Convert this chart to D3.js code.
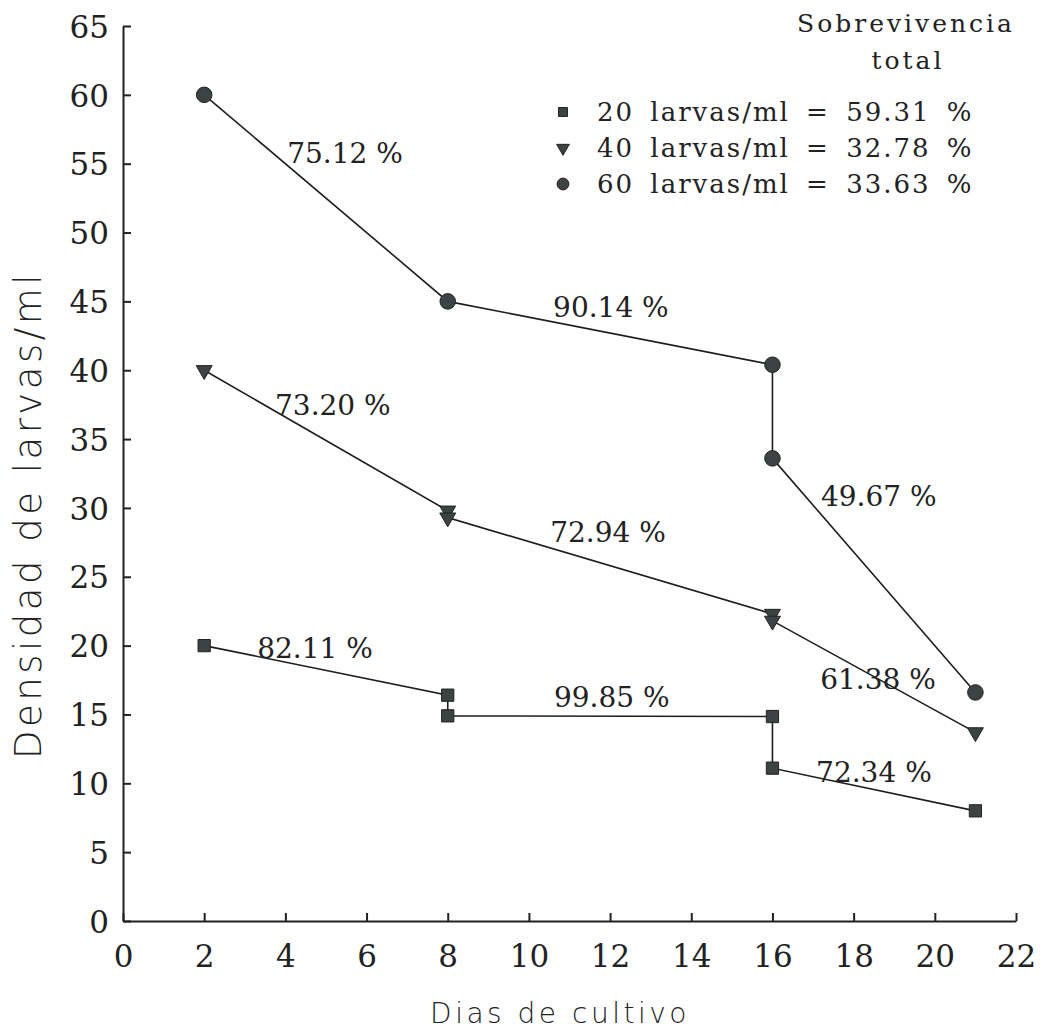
<!DOCTYPE html>
<html>
<head>
<meta charset="utf-8">
<script src="https://cdn.jsdelivr.net/npm/d3@7"></script>
<style>
  body { margin: 0; background: #fff; }
  svg { display: block; }
  .tick text { font-family: "DejaVu Serif", serif; font-size: 31px; fill: #222; }
</style>
</head>
<body>
<div id="chart"></div>
<script>
// dias de cultivo y densidad (larvas/ml) por tratamiento
let days20 = [2, 8, 8, 16, 16, 21];
let dens20 = [20, 16.4, 14.9, 14.85, 11.1, 8.0];
let days40 = [2, 8, 8, 16, 16, 21];
let dens40 = [40, 29.8, 29.3, 22.3, 21.8, 13.7];
let days60 = [2, 8, 16, 16, 21];
let dens60 = [60, 45, 40.4, 33.6, 16.6];

let legendLabels = ["20 larvas/ml = 59.31 %", "40 larvas/ml = 32.78 %", "60 larvas/ml = 33.63 %"];

// sobrevivencia por periodo
let survText = ["75.12 %", "90.14 %", "49.67 %", "73.20 %", "72.94 %", "61.38 %", "82.11 %", "99.85 %", "72.34 %"];
let survDay = [5.47, 12.02, 18.62, 5.17, 11.95, 18.6, 4.73, 12.04, 18.5];
let survDens = [55.8, 44.6, 30.86, 37.5, 28.25, 17.57, 19.83, 16.27, 10.82];

let xTicks = [0, 2, 4, 6, 8, 10, 12, 14, 16, 18, 20, 22];
let yTicks = [0, 5, 10, 15, 20, 25, 30, 35, 40, 45, 50, 55, 60, 65];

var w = 1047,
	h = 1030;

var x = d3.scaleLinear().domain([0, 22]).range([123, 1016]);
var y = d3.scaleLinear().domain([0, 65]).range([921, 26]);

var svg = d3.select("#chart").append("svg").attr("width", w).attr("height", h);

var markFill = "#3d4242";

// ejes
var xAxis = d3.axisBottom(x).tickValues(xTicks).tickSize(-8).tickPadding(24).tickSizeOuter(0);
var yAxis = d3.axisLeft(y).tickValues(yTicks).tickSize(-8).tickPadding(14).tickSizeOuter(0);

svg.append("g")
	.attr("transform", "translate(0," + y(0) + ")")
	.call(xAxis)
	.call((g) => g.selectAll("line, path").attr("stroke", "#222").attr("stroke-width", 2))
	.call((g) => g.selectAll(".tick text").attr("dy", "0.72em"));

svg.append("g")
	.attr("transform", "translate(" + x(0) + ",0)")
	.call(yAxis)
	.call((g) => g.selectAll("line, path").attr("stroke", "#222").attr("stroke-width", 2))
	.call((g) => g.selectAll(".tick text").attr("dy", "0.36em"));

svg.append("text")
	.attr("x", 560)
	.attr("y", 1023)
	.attr("text-anchor", "middle")
	.attr("font-family", "DejaVu Sans, sans-serif")
	.attr("font-size", 28)
	.attr("font-weight", 300)
	.attr("letter-spacing", 3.5)
	.attr("fill", "#222")
	.text("Dias de cultivo");

svg.append("text")
	.attr("transform", "translate(41," + 515 + ") rotate(-90)")
	.attr("text-anchor", "middle")
	.attr("font-family", "DejaVu Sans, sans-serif")
	.attr("font-size", 37)
	.attr("font-weight", 300)
	.attr("letter-spacing", 3.5)
	.attr("fill", "#222")
	.text("Densidad de larvas/ml");

// lineas
var line = d3.line().x((d) => x(d[0])).y((d) => y(d[1]));

let series = [
	{ pts: d3.zip(days20, dens20), shape: d3.symbolSquare, size: 150 },
	{ pts: d3.zip(days40, dens40), shape: d3.symbolTriangle, size: 110, flip: true },
	{ pts: d3.zip(days60, dens60), shape: d3.symbolCircle, size: 190 },
];

series.forEach((s) => {
	svg.append("path")
		.datum(s.pts)
		.attr("d", line)
		.attr("fill", "none")
		.attr("stroke", "#1e1e1e")
		.attr("stroke-width", 1.6);

	svg.append("g")
		.selectAll("path")
		.data(s.pts)
		.enter()
		.append("path")
		.attr("d", d3.symbol().type(s.shape).size(s.size))
		.attr("transform", (d) => "translate(" + x(d[0]) + "," + y(d[1]) + ")" + (s.flip ? " rotate(180)" : ""))
		.attr("fill", markFill)
		.attr("stroke", "#222")
		.attr("stroke-width", 1);
});

// etiquetas de sobrevivencia
svg.append("g")
	.selectAll("text")
	.data(survText)
	.enter()
	.append("text")
	.attr("x", (d, i) => x(survDay[i]))
	.attr("y", (d, i) => y(survDens[i]))
	.attr("dy", "0.36em")
	.attr("text-anchor", "middle")
	.attr("font-family", "DejaVu Serif, serif")
	.attr("font-size", 28)
	.attr("fill", "#222")
	.text((d) => d);

// leyenda
let legend = svg.append("g").attr("id", "legend");

legend.append("text")
	.attr("x", 906)
	.attr("y", 32)
	.attr("text-anchor", "middle")
	.attr("font-family", "DejaVu Serif, serif")
	.attr("font-size", 25)
	.attr("letter-spacing", 3)
	.attr("fill", "#222")
	.text("Sobrevivencia");

legend.append("text")
	.attr("x", 908)
	.attr("y", 69)
	.attr("text-anchor", "middle")
	.attr("font-family", "DejaVu Serif, serif")
	.attr("font-size", 25)
	.attr("letter-spacing", 3)
	.attr("fill", "#222")
	.text("total");

let legendShapes = [d3.symbolSquare, d3.symbolTriangle, d3.symbolCircle];
let legendSizes = [80, 70, 110];

legendLabels.forEach((lab, i) => {
	let ly = 112 + i * 36;
	legend.append("path")
		.attr("d", d3.symbol().type(legendShapes[i]).size(legendSizes[i]))
		.attr("transform", "translate(563," + ly + ")" + (i === 1 ? " rotate(180)" : ""))
		.attr("fill", markFill)
		.attr("stroke", "#222")
		.attr("stroke-width", 1);
	legend.append("text")
		.attr("x", 597)
		.attr("y", ly)
		.attr("dy", "0.36em")
		.attr("font-family", "DejaVu Serif, serif")
		.attr("font-size", 26)
		.attr("letter-spacing", 2)
		.attr("word-spacing", 6)
		.attr("fill", "#222")
		.text(lab);
});
</script>
</body>
</html>
